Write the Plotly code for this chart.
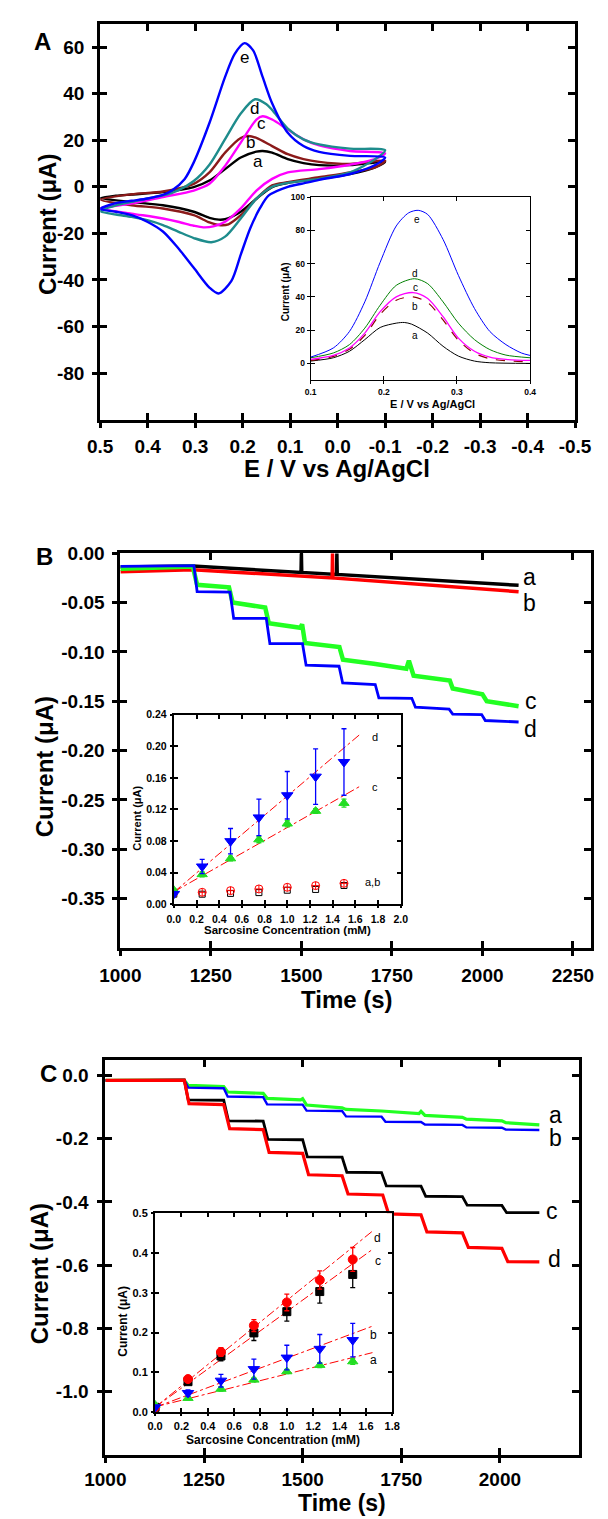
import plotly.graph_objects as go

W, H = 608, 1519
FONT = "Liberation Sans"

# ---------------- Panel A : cyclic voltammograms (E in V, I in uA) ----------------
cvA_a_E = [0.5, 0.467, 0.434, 0.368, 0.303, 0.270, 0.237, 0.204, 0.171, 0.158, 0.138, 0.105, 0.072, 0.039, -0.026, -0.1,
           -0.08, -0.026, 0.039, 0.105, 0.138, 0.171, 0.204, 0.237, 0.250, 0.270, 0.303, 0.368, 0.434, 0.5]
cvA_a_I = [-4.8, -3.8, -3.3, -2.3, -0.1, 2.7, 7.6, 12.6, 15.1, 15.4, 14.7, 11.9, 10.2, 9.3, 9.3, 10.7,
           8.5, 5.5, 3.4, 1.7, -0.1, -5.1, -10.7, -13.9, -14.1, -13.3, -10.7, -7.9, -6.5, -4.8]
cvA_b_E = [0.5, 0.434, 0.368, 0.303, 0.270, 0.237, 0.204, 0.188, 0.171, 0.138, 0.105, 0.072, 0.039, -0.026, -0.1,
           -0.08, -0.026, 0.039, 0.105, 0.138, 0.171, 0.204, 0.230, 0.250, 0.270, 0.303, 0.368, 0.434, 0.5]
cvA_b_I = [-5.5, -3.2, -2.0, 1.3, 6.2, 14.7, 21.0, 21.8, 21.0, 17.5, 14.0, 11.9, 10.7, 9.8, 11.2,
           8.5, 6.2, 4.1, 2.0, 0.6, -5.1, -12.2, -16.1, -16.4, -15.3, -12.2, -9.3, -7.9, -5.5]
cvA_c_E = [0.5, 0.434, 0.368, 0.303, 0.270, 0.237, 0.204, 0.171, 0.158, 0.138, 0.105, 0.072, 0.039, -0.026, -0.1,
           -0.08, -0.026, 0.039, 0.105, 0.138, 0.171, 0.204, 0.237, 0.262, 0.283, 0.303, 0.336, 0.368, 0.434, 0.5]
cvA_c_I = [-9.3, -7.2, -4.4, -1.6, 1.3, 9.0, 19.0, 28.9, 30.3, 28.9, 24.6, 20.4, 17.8, 15.4, 14.4,
           12.0, 9.5, 7.6, 6.2, 3.4, -1.6, -9.3, -15.0, -17.0, -17.4, -16.7, -15.0, -13.6, -11.5, -9.3]
cvA_d_E = [0.5, 0.467, 0.434, 0.401, 0.368, 0.336, 0.303, 0.270, 0.237, 0.204, 0.174, 0.150, 0.138, 0.105, 0.072, 0.039, -0.026, -0.1,
           -0.08, -0.026, 0.039, 0.105, 0.138, 0.171, 0.204, 0.237, 0.266, 0.303, 0.336, 0.368, 0.401, 0.434, 0.467, 0.5]
cvA_d_I = [-10.5, -8.0, -6.5, -5.0, -3.7, -1.5, 2.5, 9.5, 20.5, 31.5, 37.6, 35.5, 33.0, 25.0, 20.4, 18.2, 16.4, 15.7,
           12.0, 6.2, 3.4, 1.7, 0.0, -5.1, -13.6, -21.4, -23.8, -22.0, -19.2, -16.4, -14.3, -12.9, -11.9, -10.5]
cvA_e_E = [0.5, 0.467, 0.434, 0.400, 0.368, 0.349, 0.322, 0.303, 0.270, 0.237, 0.217, 0.196, 0.178, 0.158, 0.138, 0.105, 0.072, 0.039, -0.026, -0.1,
           -0.08, -0.026, 0.039, 0.072, 0.105, 0.145, 0.164, 0.184, 0.204, 0.224, 0.251, 0.270, 0.303, 0.336, 0.368, 0.401, 0.434, 0.467, 0.5]
cvA_e_I = [-9.5, -7.0, -6.0, -5.0, -3.5, -1.6, 3.4, 10.5, 27.4, 47.2, 57.0, 61.7, 58.6, 47.2, 35.9, 23.2, 17.5, 15.0, 13.3, 12.6,
           9.5, 5.5, 3.0, 1.5, 0.0, -3.7, -9.3, -17.8, -29.1, -40.5, -45.8, -43.3, -34.8, -26.3, -19.2, -15.0, -12.2, -10.7, -9.5]
cvA_labels = ["a", "b", "c", "d", "e"]
cvA_label_E = [0.168, 0.184, 0.161, 0.176, 0.197]
cvA_label_I = [11.0, 19.2, 27.4, 33.8, 55.7]

# inset A : DPV
dpv_a_E = [0.1, 0.131, 0.153, 0.174, 0.195, 0.217, 0.228, 0.238, 0.26, 0.281, 0.302, 0.324, 0.345, 0.4]
dpv_a_I = [1.4, 3.4, 7.3, 14.3, 21.6, 24.2, 24.6, 23.6, 18.2, 10.3, 4.4, 1.4, 0.4, 0.0]
dpv_bc_E = [0.1, 0.131, 0.153, 0.174, 0.195, 0.217, 0.24, 0.26, 0.281, 0.302, 0.324, 0.345, 0.367, 0.4]
dpv_b_I = [1.8, 4.2, 8.5, 16.8, 29.5, 38.0, 40.0, 36.6, 26.1, 13.9, 6.1, 2.8, 1.6, 1.0]
dpv_c_I = [2.4, 4.8, 9.3, 18.2, 31.1, 40.0, 42.6, 39.0, 28.1, 15.2, 7.3, 3.8, 2.4, 1.8]
dpv_d_E = [0.1, 0.131, 0.153, 0.174, 0.195, 0.217, 0.242, 0.26, 0.281, 0.302, 0.324, 0.345, 0.367, 0.4]
dpv_d_I = [3.4, 6.3, 11.3, 21.2, 35.0, 46.9, 50.9, 47.9, 37.0, 24.2, 14.3, 8.3, 5.0, 3.4]
dpv_e_E = [0.1, 0.131, 0.153, 0.174, 0.195, 0.217, 0.234, 0.247, 0.26, 0.281, 0.302, 0.324, 0.345, 0.367, 0.388, 0.4]
dpv_e_I = [3.8, 9.3, 19.2, 37.0, 60.8, 82.6, 90.5, 92.0, 89.5, 74.5, 52.9, 33.0, 19.2, 11.3, 6.3, 4.8]
dpv_label_E = [0.243, 0.243, 0.243, 0.243, 0.246]
dpv_label_I = [17.0, 34.0, 45.4, 53.9, 86.6]

# ---------------- Panel B : amperometry (t in s, I in uA) ----------------
B_a_t = [1000, 1200, 1499, 1500, 1501, 1597, 1598, 1599, 2100]
B_a_i = [-0.014, -0.013, -0.0195, 0.0, -0.0195, -0.0215, 0.0, -0.0215, -0.0325]
B_b_t = [1000, 1200, 1585, 1586, 1587, 2100]
B_b_i = [-0.0188, -0.0168, -0.025, 0.0, -0.025, -0.039]
B_c_t = [1000, 1200, 1212, 1300, 1310, 1400, 1410, 1497, 1502, 1510, 1605, 1615, 1700, 1790, 1797, 1810, 1910, 1918, 2000, 2012, 2100]
B_c_i = [-0.0157, -0.0135, -0.032, -0.0345, -0.050, -0.055, -0.071, -0.0755, -0.072, -0.091, -0.095, -0.108, -0.112, -0.117, -0.109,
         -0.124, -0.129, -0.137, -0.143, -0.150, -0.155]
B_d_t = [1000, 1203, 1212, 1303, 1313, 1403, 1413, 1503, 1513, 1604, 1614, 1704, 1714, 1805, 1815, 1908, 1918, 1998, 2008, 2100]
B_d_i = [-0.0134, -0.0125, -0.039, -0.0395, -0.066, -0.066, -0.0915, -0.0915, -0.1135, -0.1145, -0.1315, -0.133, -0.1465, -0.147,
         -0.156, -0.158, -0.163, -0.1635, -0.1695, -0.171]
B_labels = ["a", "b", "c", "d"]
B_label_t = [2131, 2131, 2135, 2133]
B_label_i = [-0.024, -0.050, -0.150, -0.178]

# inset B : calibration
insB_x = [0, 0.25, 0.5, 0.75, 1.0, 1.25, 1.5]
insB_a = [0.013, 0.013, 0.014, 0.015, 0.018, 0.019, 0.024]
insB_b = [0.015, 0.0154, 0.0175, 0.0196, 0.0217, 0.0238, 0.0267]
insB_c = [0.018, 0.038, 0.058, 0.082, 0.102, 0.118, 0.128]
insB_c_err = [0.002, 0.003, 0.003, 0.004, 0.004, 0.003, 0.005]
insB_d = [0.0134, 0.048, 0.080, 0.110, 0.138, 0.1615, 0.180]
insB_d_err = [0.002, 0.009, 0.016, 0.023, 0.030, 0.035, 0.042]
fitB_x = [0, 1.65]
fitB_c = [0.016, 0.150]
fitB_d = [0.0155, 0.216]
insB_labels = ["d", "c", "a,b"]
insB_label_x = [1.77, 1.77, 1.75]
insB_label_y = [0.212, 0.148, 0.029]

# ---------------- Panel C : amperometry ----------------
C_a_t = [1000, 1200, 1210, 1300, 1310, 1400, 1410, 1495, 1500, 1510, 1600, 1610, 1700, 1795, 1800, 1810, 1905, 1915, 2005, 2015, 2100]
C_a_i = [-0.015, -0.014, -0.031, -0.035, -0.052, -0.056, -0.072, -0.077, -0.073, -0.093, -0.102, -0.107, -0.112, -0.120, -0.113,
         -0.126, -0.132, -0.138, -0.143, -0.149, -0.156]
C_b_t = [1000, 1200, 1210, 1300, 1310, 1400, 1410, 1500, 1510, 1600, 1610, 1700, 1710, 1800, 1810, 1905, 1915, 2005, 2015, 2100]
C_b_i = [-0.015, -0.014, -0.038, -0.040, -0.066, -0.068, -0.091, -0.092, -0.111, -0.112, -0.129, -0.130, -0.146, -0.147,
         -0.155, -0.156, -0.164, -0.165, -0.171, -0.172]
C_c_t = [1000, 1200, 1210, 1300, 1312, 1400, 1412, 1500, 1512, 1600, 1612, 1700, 1712, 1800, 1812, 1905, 1917, 2005, 2017, 2100]
C_c_i = [-0.015, -0.014, -0.077, -0.078, -0.143, -0.144, -0.202, -0.203, -0.257, -0.258, -0.306, -0.307, -0.349, -0.350,
         -0.382, -0.383, -0.410, -0.411, -0.434, -0.434]
C_d_t = [1000, 1200, 1212, 1300, 1315, 1400, 1415, 1500, 1515, 1600, 1615, 1703, 1718, 1800, 1815, 1905, 1920, 2005, 2020, 2100]
C_d_i = [-0.015, -0.014, -0.089, -0.092, -0.168, -0.171, -0.243, -0.246, -0.314, -0.317, -0.375, -0.378, -0.438, -0.441,
         -0.495, -0.498, -0.544, -0.547, -0.589, -0.590]
C_labels = ["a", "b", "c", "d"]
C_label_t = [2140, 2140, 2133, 2138]
C_label_i = [-0.124, -0.199, -0.43, -0.58]

# inset C
insC_x = [0, 0.25, 0.5, 0.75, 1.0, 1.25, 1.5]
insC_a = [0.018, 0.035, 0.058, 0.081, 0.102, 0.118, 0.127]
insC_a_err = [0.003, 0.004, 0.005, 0.005, 0.005, 0.006, 0.007]
insC_b = [0.012, 0.048, 0.079, 0.108, 0.137, 0.159, 0.181]
insC_b_err = [0.003, 0.008, 0.016, 0.025, 0.031, 0.036, 0.042]
insC_c = [0.012, 0.0764, 0.141, 0.199, 0.2525, 0.303, 0.346]
insC_c_err = [0.003, 0.006, 0.012, 0.019, 0.024, 0.029, 0.033]
insC_d = [0.012, 0.083, 0.151, 0.2176, 0.2757, 0.332, 0.3837]
insC_d_err = [0.003, 0.006, 0.011, 0.015, 0.021, 0.023, 0.030]
fitC_x = [0, 1.65]
fitC_a = [0.013, 0.1495]
fitC_b = [0.012, 0.216]
fitC_c = [0.012, 0.409]
fitC_d = [0.012, 0.455]
insC_labels = ["d", "c", "b", "a"]
insC_label_x = [1.69, 1.69, 1.66, 1.66]
insC_label_y = [0.4385, 0.380, 0.195, 0.131]

# ---------------- tick labels ----------------
A_xt = [0.5, 0.4, 0.3, 0.2, 0.1, 0.0, -0.1, -0.2, -0.3, -0.4, -0.5]
A_xtt = ["0.5", "0.4", "0.3", "0.2", "0.1", "0.0", "-0.1", "-0.2", "-0.3", "-0.4", "-0.5"]
A_yt = [60, 40, 20, 0, -20, -40, -60, -80]
A_ytt = ["60", "40", "20", "0", "-20", "-40", "-60", "-80"]
iA_xt = [0.1, 0.2, 0.3, 0.4]
iA_xtt = ["0.1", "0.2", "0.3", "0.4"]
iA_yt = [0, 20, 40, 60, 80, 100]
iA_ytt = ["0", "20", "40", "60", "80", "100"]
B_xt = [1000, 1250, 1500, 1750, 2000, 2250]
B_xtt = ["1000", "1250", "1500", "1750", "2000", "2250"]
B_yt = [0.0, -0.05, -0.10, -0.15, -0.20, -0.25, -0.30, -0.35]
B_ytt = ["0.00", "-0.05", "-0.10", "-0.15", "-0.20", "-0.25", "-0.30", "-0.35"]
iB_xt = [0.0, 0.2, 0.4, 0.6, 0.8, 1.0, 1.2, 1.4, 1.6, 1.8, 2.0]
iB_xtt = ["0.0", "0.2", "0.4", "0.6", "0.8", "1.0", "1.2", "1.4", "1.6", "1.8", "2.0"]
iB_yt = [0.0, 0.04, 0.08, 0.12, 0.16, 0.20, 0.24]
iB_ytt = ["0.00", "0.04", "0.08", "0.12", "0.16", "0.20", "0.24"]
C_xt = [1000, 1250, 1500, 1750, 2000]
C_xtt = ["1000", "1250", "1500", "1750", "2000"]
C_yt = [0.0, -0.2, -0.4, -0.6, -0.8, -1.0]
C_ytt = ["0.0", "-0.2", "-0.4", "-0.6", "-0.8", "-1.0"]
iC_xt = [0.0, 0.2, 0.4, 0.6, 0.8, 1.0, 1.2, 1.4, 1.6, 1.8]
iC_xtt = ["0.0", "0.2", "0.4", "0.6", "0.8", "1.0", "1.2", "1.4", "1.6", "1.8"]
iC_yt = [0.0, 0.1, 0.2, 0.3, 0.4, 0.5]
iC_ytt = ["0.0", "0.1", "0.2", "0.3", "0.4", "0.5"]

# ---------------- figure ----------------
fig = go.Figure()


def line(x, y, color, width, ax, dash=None, shape="linear"):
    fig.add_trace(go.Scatter(x=x, y=y, mode="lines", showlegend=False, hoverinfo="skip",
                             line=dict(color=color, width=width, dash=dash, shape=shape,
                                       smoothing=0.8 if shape == "spline" else None),
                             xaxis="x" + ax, yaxis="y" + ax))


def pts(x, y, color, symbol, size, ax, err=None, lw=1):
    fig.add_trace(go.Scatter(x=x, y=y, mode="markers", showlegend=False, hoverinfo="skip",
                             marker=dict(color=color, symbol=symbol, size=size, line=dict(color=color, width=lw)),
                             error_y=dict(type="data", array=err, color=color, thickness=1.3, width=2.5,
                                          visible=err is not None),
                             xaxis="x" + ax, yaxis="y" + ax))


# Panel A
line(cvA_a_E, cvA_a_I, "#000000", 2.4, "", shape="spline")
line(cvA_b_E, cvA_b_I, "#8B1A1A", 2.4, "", shape="spline")
line(cvA_c_E, cvA_c_I, "#FF00FF", 2.4, "", shape="spline")
line(cvA_d_E, cvA_d_I, "#1E8C8C", 2.4, "", shape="spline")
line(cvA_e_E, cvA_e_I, "#0000FF", 2.4, "", shape="spline")
# Inset A
line(dpv_a_E, dpv_a_I, "#000000", 1, "2", shape="spline")
line(dpv_bc_E, dpv_b_I, "#8B0000", 1.2, "2", dash="dash", shape="spline")
line(dpv_bc_E, dpv_c_I, "#FF00FF", 1.3, "2", shape="spline")
line(dpv_d_E, dpv_d_I, "#008000", 1, "2", shape="spline")
line(dpv_e_E, dpv_e_I, "#0000FF", 1, "2", shape="spline")
# Panel B
line(B_a_t, B_a_i, "#000000", 3.5, "3")
line(B_b_t, B_b_i, "#FF0000", 3.5, "3")
line(B_c_t, B_c_i, "#22FF22", 4.5, "3")
line(B_d_t, B_d_i, "#0000FF", 2.8, "3")
# Inset B
line(fitB_x, fitB_d, "#FF0000", 1, "4", dash="dashdot")
line(fitB_x, fitB_c, "#FF0000", 1, "4", dash="dashdot")
pts(insB_x, insB_a, "#000000", "square-open", 6, "4")
pts(insB_x, insB_b, "#FF0000", "circle-cross-open", 8, "4")
pts(insB_x, insB_c, "#22DD22", "triangle-up", 9, "4", err=insB_c_err)
pts(insB_x, insB_d, "#0000FF", "triangle-down", 10, "4", err=insB_d_err)
# Panel C
line(C_a_t, C_a_i, "#22FF22", 3.2, "5")
line(C_b_t, C_b_i, "#0000FF", 2.4, "5")
line(C_c_t, C_c_i, "#000000", 2.8, "5")
line(C_d_t, C_d_i, "#FF0000", 3.2, "5")
# Inset C
for fy in (fitC_a, fitC_b, fitC_c, fitC_d):
    line(fitC_x, fy, "#FF0000", 1, "6", dash="dashdot")
pts(insC_x, insC_c, "#000000", "square", 8, "6", err=insC_c_err)
pts(insC_x, insC_d, "#FF0000", "circle", 9, "6", err=insC_d_err)
pts(insC_x, insC_a, "#22DD22", "triangle-up", 9, "6", err=insC_a_err)
pts(insC_x, insC_b, "#0000FF", "triangle-down", 10, "6", err=insC_b_err)

# empty traces for overlay (outer tick) axes
for k in range(7, 13):
    fig.add_trace(go.Scatter(x=[], y=[], xaxis="x%d" % k, yaxis="y%d" % k, showlegend=False, hoverinfo="skip"))


def px_x(p):
    return p / W


def px_y(p):
    return 1 - p / H


panels = [
    # id, xdom(px), ydom(px top,bottom), xrange, yrange, xticks, xtext, yticks, ytext, font, lw, tin, tout, xstand, ystand
    ("", (84.5, 591), (14, 414), [0.5, -0.5], [-100, 70], A_xt, A_xtt, A_yt, A_ytt, 19, 3, 7, 7, 8, 9),
    ("2", (309, 543), (189, 374), [0.1, 0.4], [-10, 100], iA_xt, iA_xtt, iA_yt, iA_ytt, 8.5, 1.2, 4, 3, 4, 3),
    ("3", (106, 610), (549, 948), [1000, 2300], [-0.4, 0.0], B_xt, B_xtt, B_yt, B_ytt, 19, 3, 7, 7, 8, 9),
    ("4", (163, 405), (712, 904), [0, 2.0], [0, 0.24], iB_xt, iB_xtt, iB_yt, iB_ytt, 10.5, 2, 4, 3, 4, 3),
    ("5", (90, 595), (1061, 1460), [1000, 2200], [-1.2, 0.05], C_xt, C_xtt, C_yt, C_ytt, 19, 3, 7, 7, 6, 10),
    ("6", (143, 396), (1216, 1417), [0, 1.8], [0, 0.5], iC_xt, iC_xtt, iC_yt, iC_ytt, 11, 2.2, 4, 3, 3, 3),
]

layout_axes = {}
for i, (aid, xd, yd, xr, yr, xt, xtt, yt, ytt, fs, lw, tin, tout, xs, ys) in enumerate(panels):
    n = aid
    xdom = [px_x(xd[0]), min(1.0, px_x(xd[1]))]
    ydom = [px_y(yd[1]), px_y(yd[0])]
    tf = dict(family=FONT, size=fs, color="black", weight="bold")
    common = dict(ticks="inside", ticklen=tin, tickwidth=lw, tickcolor="black", showline=True,
                  linewidth=lw, linecolor="black", mirror="ticks", showgrid=False, zeroline=False,
                  tickfont=tf, fixedrange=True)
    layout_axes["xaxis" + n] = dict(domain=xdom, range=xr, anchor="y" + n, tickvals=xt, ticktext=xtt,
                                    ticklabelstandoff=xs, **common)
    layout_axes["yaxis" + n] = dict(domain=ydom, range=yr, anchor="x" + n, tickvals=yt, ticktext=ytt,
                                    ticklabelstandoff=ys, **common)
    k = str(7 + i)
    ov = dict(ticks="outside", ticklen=tout, tickwidth=lw, tickcolor="black", showticklabels=False,
              showline=False, showgrid=False, zeroline=False, fixedrange=True)
    layout_axes["xaxis" + k] = dict(overlaying="x" + n, anchor="y" + k, range=xr, tickvals=xt, **ov)
    layout_axes["yaxis" + k] = dict(overlaying="y" + n, anchor="x" + k, range=yr, tickvals=yt, **ov)

ann = []


def txt(x, y, s, size, xref="paper", yref="paper", bold=False, angle=0, family=FONT):
    ann.append(dict(x=x, y=y, xref=xref, yref=yref, text=s, showarrow=False, textangle=angle,
                    xanchor="center", yanchor="middle",
                    font=dict(family=family, size=size, color="black", weight="bold" if bold else "normal")))


# panel letters and axis titles
txt(px_x(23), px_y(32), "A", 24, bold=True)
txt(px_x(29), px_y(217), "Current (μA)", 24, bold=True, angle=-90)
txt(px_x(337), px_y(463), "E / V vs Ag/AgCl", 24, bold=True)
txt(px_x(283), px_y(285), "Current (μA)", 10, bold=True, angle=-90)
txt(px_x(439), px_y(398), "E / V vs Ag/AgCl", 11, bold=True)

txt(px_x(25), px_y(552), "B", 24, bold=True)
txt(px_x(26), px_y(765), "Current (μA)", 24, bold=True, angle=-90)
txt(px_x(348), px_y(1000), "Time (s)", 24, bold=True)
txt(px_x(124), px_y(817), "Current (μA)", 11, bold=True, angle=-90)
txt(px_x(284), px_y(930), "Sarcosine Concentration (mM)", 11.5, bold=True)

txt(px_x(29), px_y(1075), "C", 24, bold=True)
txt(px_x(20), px_y(1277), "Current (μA)", 24, bold=True, angle=-90)
txt(px_x(342), px_y(1509), "Time (s)", 23, bold=True)
txt(px_x(108.5), px_y(1325), "Current (μA)", 12, bold=True, angle=-90)
txt(px_x(269), px_y(1445), "Sarcosine Concentration (mM)", 12, bold=True)

# curve labels
for s, xv, yv in zip(cvA_labels, cvA_label_E, cvA_label_I):
    txt(xv, yv, s, 17, xref="x", yref="y")
for s, xv, yv in zip(cvA_labels, dpv_label_E, dpv_label_I):
    txt(xv, yv, s, 10, xref="x2", yref="y2")
for s, xv, yv in zip(B_labels, B_label_t, B_label_i):
    txt(xv, yv, s, 23, xref="x3", yref="y3")
for s, xv, yv in zip(insB_labels, insB_label_x, insB_label_y):
    txt(xv, yv, s, 11, xref="x4", yref="y4")
for s, xv, yv in zip(C_labels, C_label_t, C_label_i):
    txt(xv, yv, s, 23, xref="x5", yref="y5")
for s, xv, yv in zip(insC_labels, insC_label_x, insC_label_y):
    txt(xv, yv, s, 12, xref="x6", yref="y6")

fig.update_layout(width=W, height=H, margin=dict(l=0, r=0, t=0, b=0), paper_bgcolor="white",
                  plot_bgcolor="white", showlegend=False, annotations=ann, **layout_axes)

fig.write_html("out.html")
